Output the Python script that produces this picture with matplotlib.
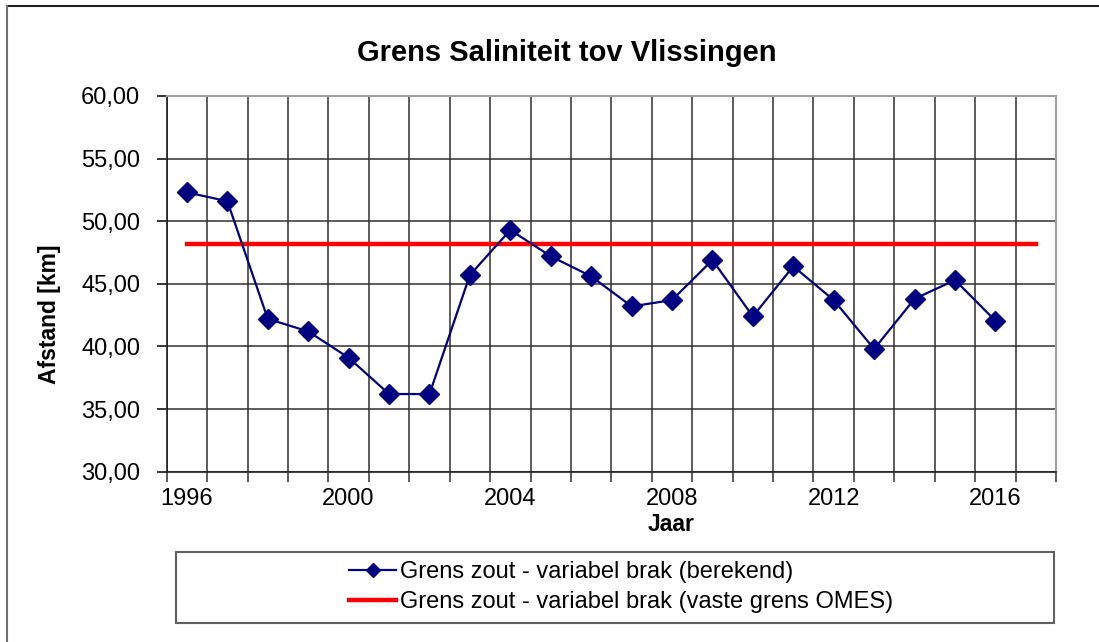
import matplotlib
matplotlib.use("Agg")
import matplotlib.pyplot as plt
from matplotlib.ticker import FuncFormatter, FixedLocator
from matplotlib.patches import Rectangle
from matplotlib.lines import Line2D

plt.rcParams['font.family'] = ['Liberation Sans', 'DejaVu Sans']

# categories on the x axis (one per year)
years = list(range(1996, 2018))
# computed border per year (1996-2016)
berekend = [52.3, 51.6, 42.2, 41.2, 39.1, 36.2, 36.2, 45.7, 49.3, 47.2, 45.6,
            43.2, 43.7, 46.9, 42.4, 46.4, 43.7, 39.8, 43.8, 45.3, 42.05]
# fixed OMES border
vaste_grens = [48.15] * len(years)
tick_years = [1996, 2000, 2004, 2008, 2012, 2016]

fig = plt.figure(figsize=(10.99, 6.42), dpi=100)
ax = fig.add_axes([0.1517, 0.2653, 0.8092, 0.5852])

x_ber = [years.index(y) for y in years[:len(berekend)]]
x_all = list(range(len(years)))

ax.plot(x_all, vaste_grens, color='#ff0000', lw=3.2, zorder=3)
ax.plot(x_ber, berekend, color='#000080', lw=1.6, marker='D', markersize=10,
        markerfacecolor='#000080', markeredgecolor='#000080', zorder=4)

ax.set_xlim(-0.5, len(years) - 0.5)
ax.set_ylim(30, 60)

# gridlines at category boundaries
bounds = [i - 0.5 for i in range(len(years) + 1)]
ax.xaxis.set_minor_locator(FixedLocator(bounds))
ax.xaxis.set_major_locator(FixedLocator([years.index(y) for y in tick_years]))
ax.set_xticklabels([str(y) for y in tick_years])
ax.set_yticks(range(30, 61, 5))
ax.yaxis.set_major_formatter(FuncFormatter(lambda v, p: f"{v:.2f}".replace('.', ',')))

ax.grid(True, which='minor', axis='x', color='#303030', lw=1.1, zorder=0)
ax.grid(True, which='major', axis='y', color='#303030', lw=1.1, zorder=0)
ax.tick_params(axis='x', which='major', length=0, pad=12, labelsize=17)
ax.tick_params(axis='x', which='minor', length=7, width=1.1, direction='out', color='#303030')
ax.tick_params(axis='y', length=7, width=1.1, pad=12, labelsize=17)

for s in ['top', 'right']:
    ax.spines[s].set_color('#a0a0a0')
    ax.spines[s].set_linewidth(1.5)
for s in ['left', 'bottom']:
    ax.spines[s].set_color('#202020')
    ax.spines[s].set_linewidth(1.2)

fig.text(0.516, 0.9174, 'Grens Saliniteit tov Vlissingen', ha='center', va='center',
         fontsize=21, fontweight='bold')
fig.text(0.611, 0.183, 'Jaar', ha='center', va='center', fontsize=16.5, fontweight='bold')
fig.text(0.045, 0.511, 'Afstand [km]', ha='center', va='center', rotation=90,
         fontsize=16.5, fontweight='bold')

# outer frame (only top and left visible)
fig.add_artist(Line2D([7 / 1099, 1], [1 - 6 / 642, 1 - 6 / 642], color='#202020', lw=1.5))
fig.add_artist(Line2D([7 / 1099, 7 / 1099], [0, 1 - 6 / 642], color='#707070', lw=1.5))

# legend box
fig.add_artist(Rectangle((176 / 1099, 19 / 642), 878 / 1099, 71 / 642, transform=fig.transFigure,
                         fill=False, edgecolor='#606060', lw=1.5))
handles = [Line2D([], [], color='#000080', lw=1.6, marker='D', markersize=7),
           Line2D([], [], color='#ff0000', lw=3.2)]
labels = ['Grens zout - variabel brak (berekend)',
          'Grens zout - variabel brak (vaste grens OMES)']
fig.legend(handles, labels, loc='center', bbox_to_anchor=(0.565, 0.0857), frameon=False,
           fontsize=17, handlelength=2.0, handletextpad=0.15, labelspacing=0.35,
           borderpad=0)

fig.savefig('out.png', dpi=100)
